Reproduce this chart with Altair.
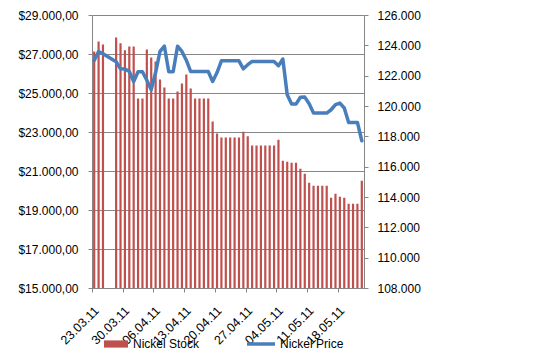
import altair as alt
import pandas as pd

# Daily slots from 23.03.2011 to 23.05.2011 (None = no value)
dates = [d.strftime("%Y-%m-%d") for d in pd.date_range("2011-03-23", "2011-05-23", freq="D")]

nickel_stock = [
    123600, 124260, 124060, None, None,
    124520, 124130, 123670, 123930, 123930, 120490, 120490,
    123730, 123200, 122940, 121750, 121220, 120490, 120490,
    120960, 121480, 122080, 121150, 120490, 120490, 120490,
    120490, 118970, 118180, 117920, 117920, 117920, 117920,
    117920, 118310, 118000, 117390, 117390, 117390, 117390,
    117390, 117390, 117780, 116390, 116330, 116260, 116260,
    115870, 115540, 114940, 114740, 114740, 114740, 114740,
    113950, 114210, 114015, 113950, 113550, 113550, 113550,
    115070,
]

nickel_price = [
    26670, 27130, 27010, None, None,
    26600, 26240, 26230, 26100, 25590, 26090, 26090,
    25650, 25170, 26050, 27130, 27400, 26090, 26090,
    27400, 27130, 26680, 26100, 26100, 26100, 26100,
    26100, 25590, 26050, 26650, 26650, 26650, 26650,
    26650, 26240, 26450, 26620, 26620, 26620, 26620,
    26620, 26620, 26400, 26740, 24910, 24430, 24430,
    24780, 24790, 24450, 23970, 23970, 23970, 23970,
    24140, 24400, 24480, 24230, 23490, 23490, 23490,
    22550,
]

tick_dates = ["2011-03-23", "2011-03-30", "2011-04-06", "2011-04-13", "2011-04-20",
              "2011-04-27", "2011-05-04", "2011-05-11", "2011-05-18"]
stock_ticks = list(range(108000, 126001, 2000))
price_ticks = list(range(15000, 29001, 2000))

df = pd.DataFrame({"date": dates, "stock": nickel_stock, "price": nickel_price}).dropna()
df["t"] = df["date"] + "T12:00:00Z"
df["s1"] = "Nickel Stock"
df["s2"] = "Nickel Price"


def dt(s):
    y, m, d = (int(v) for v in s.split("-"))
    return alt.DateTime(year=y, month=m, date=d, utc=True)


GRAY = "#868686"
FONT = "Liberation Sans"

x_enc = alt.X(
    "t:T",
    scale=alt.Scale(type="utc", domain=[dt("2011-03-23"), dt("2011-05-24")], padding=0, nice=False),
    axis=alt.Axis(
        values=[dt(s) for s in tick_dates],
        labelExpr="utcFormat(datum.value, '%d.%m.%y')",
        labelAngle=-45,
        labelPadding=12,
        labelFontSize=12.5,
        tickSize=4,
        grid=False,
        title=None,
        domainColor=GRAY,
        tickColor=GRAY,
        labelOverlap=False,
    ),
)

bars = alt.Chart(df).mark_bar(size=2.2, clip=True).encode(
    x=x_enc,
    y=alt.Y(
        "stock:Q",
        scale=alt.Scale(domain=[108000, 126000], zero=False, nice=False),
        axis=alt.Axis(
            orient="right",
            values=stock_ticks,
            labelExpr="replace(format(datum.value, ','), ',', '.')",
            grid=False,
            title=None,
            tickSize=4,
            labelPadding=9,
            domainColor=GRAY,
            tickColor=GRAY,
        ),
    ),
    fill=alt.Fill(
        "s1:N",
        scale=alt.Scale(range=["#c0504d"]),
        legend=alt.Legend(
            orient="none",
            legendX=12,
            legendY=317,
            title=None,
            symbolType="M-1,-0.3H1V0.3H-1Z",
            symbolSize=576,
            symbolStrokeWidth=0,
            labelOffset=5,
            padding=0,
        ),
    ),
)

line = alt.Chart(df).mark_line(strokeWidth=3.5, strokeJoin="round", strokeCap="round").encode(
    x=x_enc,
    y=alt.Y(
        "price:Q",
        scale=alt.Scale(domain=[15000, 29000], zero=False, nice=False),
        axis=alt.Axis(
            orient="left",
            values=price_ticks,
            labelExpr='"$" + replace(replace(replace(format(datum.value, ",.2f"), ",", "#"), ".", ","), "#", ".")',
            grid=True,
            gridColor=GRAY,
            gridWidth=1,
            title=None,
            tickSize=4,
            labelPadding=10,
            domainColor=GRAY,
            tickColor=GRAY,
        ),
    ),
    stroke=alt.Stroke(
        "s2:N",
        scale=alt.Scale(range=["#4a7ebb"]),
        legend=alt.Legend(
            orient="none",
            legendX=153,
            legendY=313,
            title=None,
            symbolType="stroke",
            symbolSize=784,
            symbolStrokeWidth=3.5,
            labelOffset=3,
            padding=0,
        ),
    ),
)

chart = (
    alt.layer(bars, line)
    .resolve_scale(y="independent")
    .properties(
        width=272,
        height=273,
        padding={"left": 84, "top": 7, "right": 174, "bottom": 63},
        autosize=alt.AutoSizeParams(type="none"),
        background="white",
    )
    .configure_view(stroke=None)
    .configure_axis(labelFont=FONT, labelFontSize=12, labelColor="#000000")
    .configure_legend(labelFont=FONT, labelFontSize=12, labelColor="#000000")
)

chart.save("out.html", embed_options={"renderer": "svg", "actions": False})
